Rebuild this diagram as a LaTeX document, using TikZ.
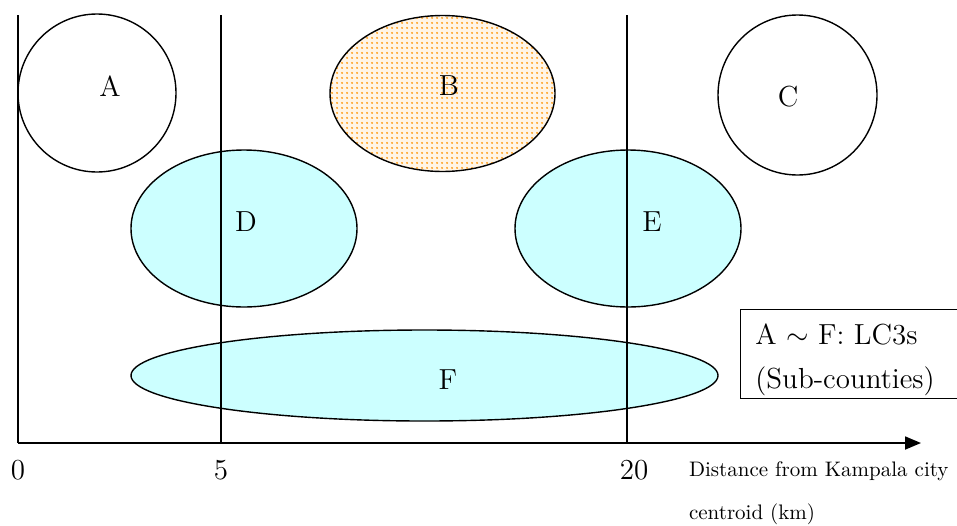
\documentclass[tikz,border=0pt]{standalone}
\usepackage{tikz}
\usetikzlibrary{arrows.meta,shapes.geometric,patterns}
\definecolor{zoneCyan}{HTML}{CCFFFF}
\definecolor{dotOrange}{HTML}{FF9A10}
\pgfdeclarepatternformonly{finedots}{\pgfpointorigin}{\pgfqpoint{2.5pt}{2.5pt}}{\pgfqpoint{2.5pt}{2.5pt}}{%
  \pgfpathcircle{\pgfqpoint{1.25pt}{1.25pt}}{0.6pt}\pgfusepath{fill}}

\begin{document}
\begin{tikzpicture}[
  x=0.5pt, y=-0.5pt,
  >=Latex,
  zone/.style={ellipse, draw=black, line width=0.7pt, inner sep=0pt},
  plain/.style={zone, fill=white},
  suburb/.style={zone, fill=zoneCyan},
  urban/.style={zone, preaction={fill=dotOrange!10}, pattern=finedots, pattern color=dotOrange},
  letter/.style={font=\fontsize{14.5}{16}\selectfont},
  tick/.style={font=\fontsize{14.5}{16}\selectfont},
  axislabel/.style={font=\fontsize{10.5}{21.5}\selectfont, align=left, anchor=north west},
  legendbox/.style={draw=black, line width=0.7pt, minimum width=120pt, minimum height=44.5pt, anchor=north west},
  legendtext/.style={font=\fontsize{14.5}{22}\selectfont, align=left, inner sep=0pt, anchor=west}
]
\useasboundingbox (0,0) rectangle (957,525);

% sub-counties
\node[plain, minimum width=79pt, minimum height=79pt] (A) at (97,93) {};
\node[urban, minimum width=112.5pt, minimum height=78pt] (B) at (442.5,93.5) {};
\node[plain, minimum width=79.5pt, minimum height=80pt] (C) at (797.5,95) {};
\node[suburb, minimum width=113pt, minimum height=78.5pt] (D) at (244,228.5) {};
\node[suburb, minimum width=113pt, minimum height=78.5pt] (E) at (628,228.5) {};
\node[suburb, minimum width=293.5pt, minimum height=45.5pt] (F) at (424.5,375.5) {};

\node[letter] (labA) at (110,86) {A};
\node[letter] (labB) at (449,86) {B};
\node[letter] (labC) at (788,97) {C};
\node[letter] (labD) at (246,222) {D};
\node[letter] (labE) at (652,222) {E};
\node[letter] (labF) at (448,380) {F};

% axes and distance bands
\coordinate (origin) at (18,443);
\coordinate (ytop) at (18,15);
\coordinate (xend) at (921,443);
\coordinate (five) at (221,443);
\coordinate (fivetop) at (221,15);
\coordinate (twenty) at (627,443);
\coordinate (twentytop) at (627,15);
\draw[line width=0.8pt] (ytop) -- (origin);
\draw[line width=0.8pt] (fivetop) -- (five);
\draw[line width=0.8pt] (twentytop) -- (twenty);
\draw[line width=0.9pt, -{Triangle[length=8pt,width=6.5pt]}] (origin) -- (xend);

\node[tick] (t0) at (18,470) {0};
\node[tick] (t5) at (221,470) {5};
\node[tick] (t20) at (634,470) {20};
\node[axislabel] (xlabel) at (682,455) {Distance from Kampala city\\centroid (km)};

\node[legendbox] (key) at (740,309) {};
\node[legendtext] (keytext) at (755,360) {A $\sim$ F: LC3s\\(Sub-counties)};
\end{tikzpicture}
\end{document}
